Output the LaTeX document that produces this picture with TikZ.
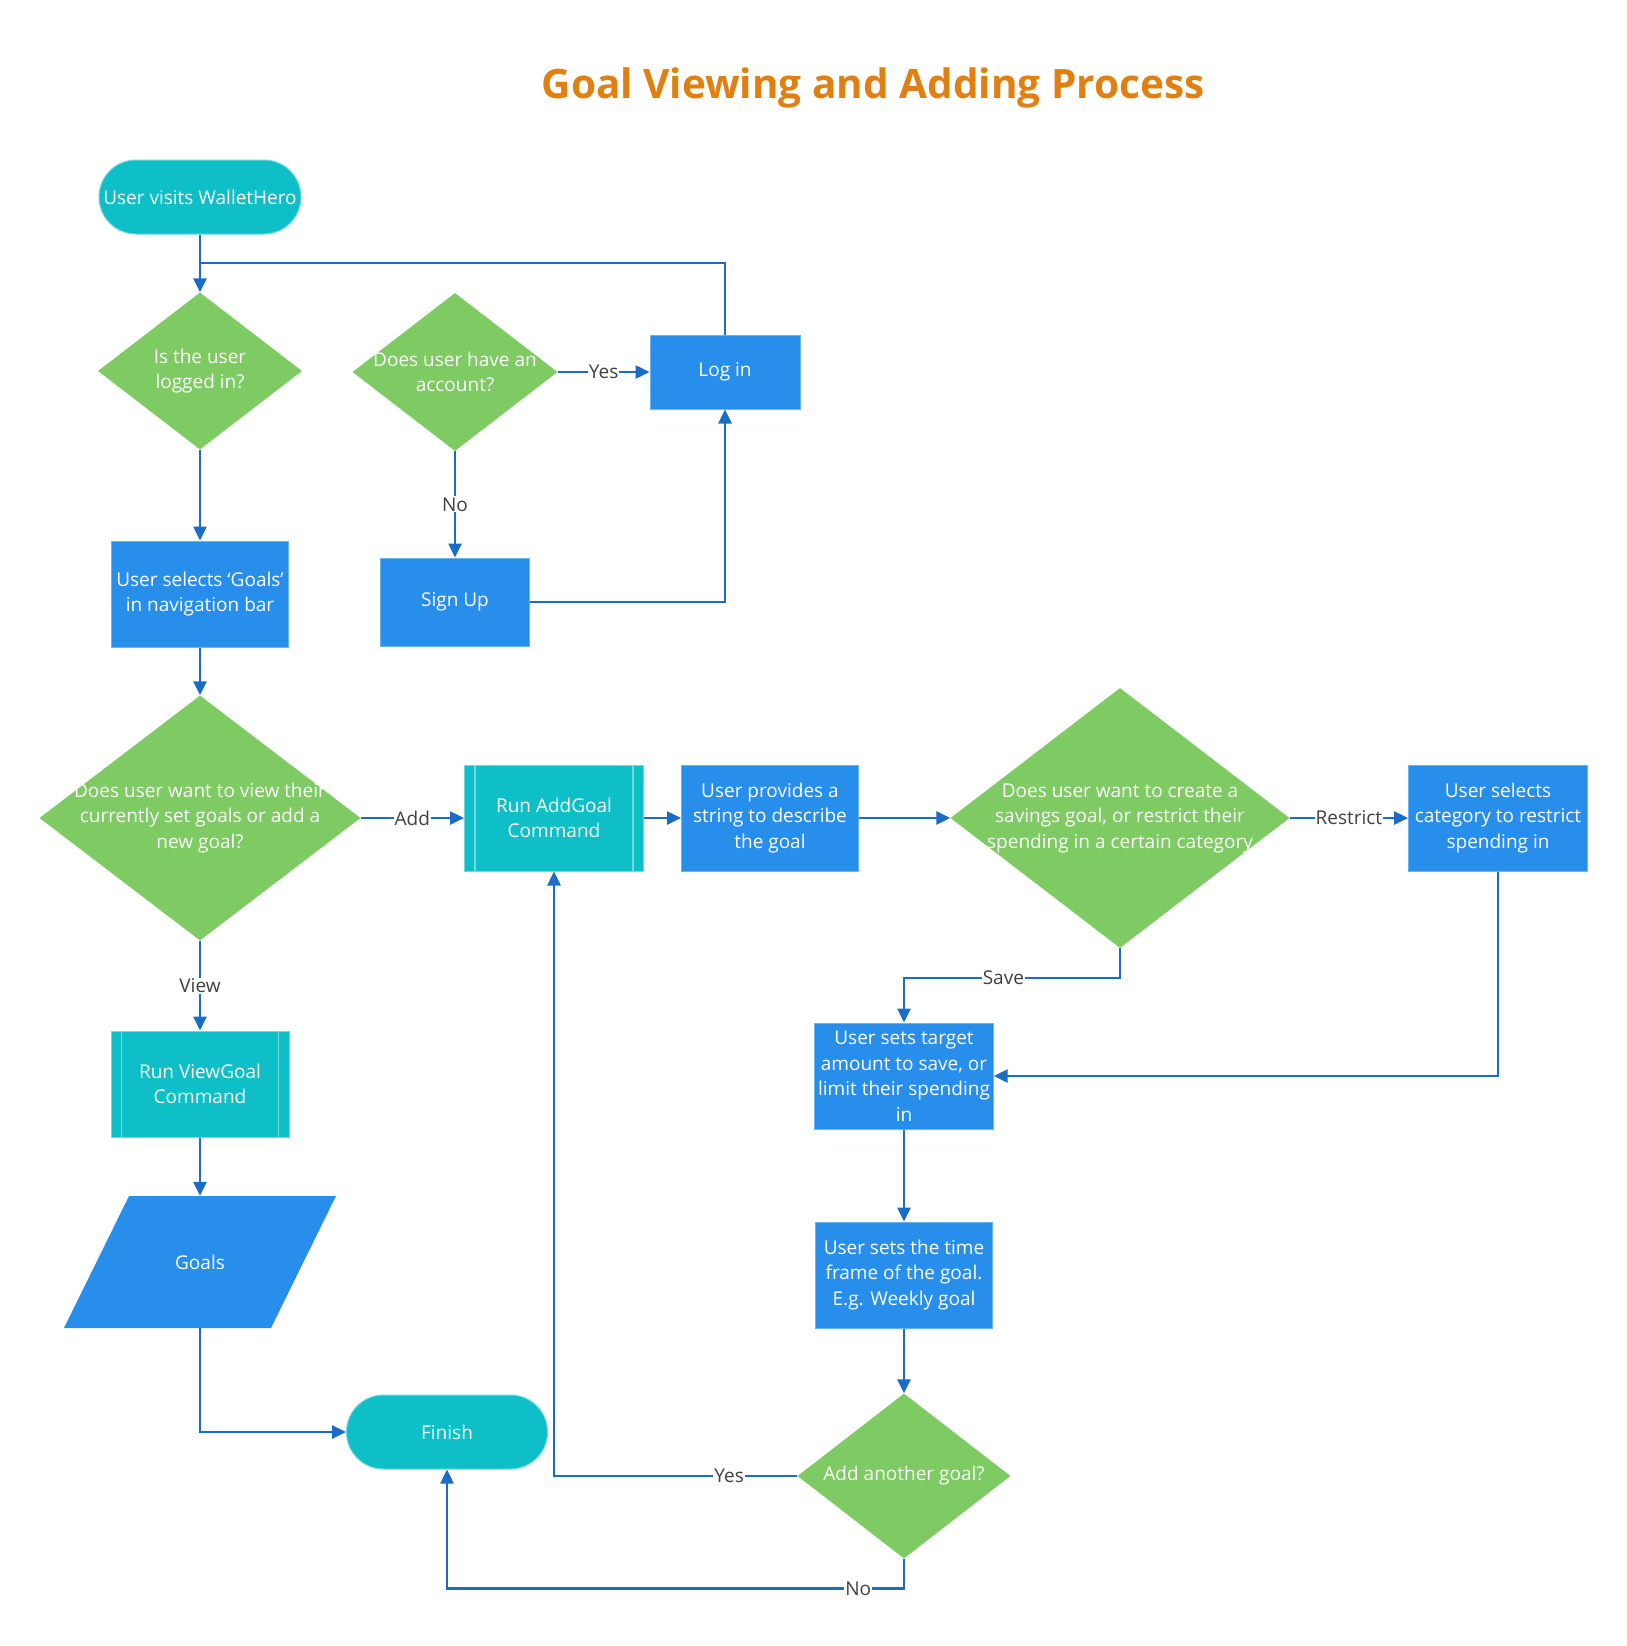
\documentclass[tikz,border=0pt]{standalone}
\usepackage{fontspec}
\setmainfont{Open Sans}
\usepackage{xcolor}
\usetikzlibrary{shapes,arrows.meta,positioning,calc}
\definecolor{termcol}{HTML}{0EBFC8}
\definecolor{termedge}{HTML}{6FD9DF}
\definecolor{proccol}{HTML}{288EEB}
\definecolor{procedge}{HTML}{6AB2F2}
\definecolor{deccol}{HTML}{7ECB63}
\definecolor{linecol}{HTML}{1A6DC6}
\definecolor{lblcol}{HTML}{404040}
\definecolor{titlecol}{HTML}{E17F10}
\newcommand{\nodefont}{\fontsize{19}{25.5}\selectfont}
\tikzset{
    terminal/.style={draw=termedge, line width=1pt, rectangle, fill=termcol, minimum width=202pt, minimum height=74pt, rounded corners=37pt, text=white, font=\nodefont, align=center},
    process/.style={draw=procedge, line width=1pt, rectangle, fill=proccol, minimum width=177pt, minimum height=106pt, text=white, font=\nodefont, align=center},
    subroutine/.style={process, fill=termcol, draw=termedge},
    subline/.style={draw=termedge, line width=1.5pt},
    decision/.style={diamond, fill=deccol, inner sep=0pt},
    dtext/.style={text=white, font=\nodefont, align=center},
    iodata/.style={rectangle, minimum width=207pt, minimum height=132pt, text=white, font=\nodefont},
    arrow/.style={-{Triangle[length=14pt,width=13pt]}, line width=2.5pt, draw=linecol},
    line/.style={line width=2.5pt, draw=linecol},
    lbl/.style={fill=white, text=lblcol, font=\nodefont, inner sep=1pt}
}
\begin{document}
\begin{tikzpicture}[x=1pt, y=-1pt]
    \useasboundingbox[fill=white] (0,0) rectangle (1627,1646);

    \node[anchor=base, text=titlecol, font=\fontsize{40.5}{48}\selectfont\bfseries] (title) at (873,98) {Goal Viewing and Adding Process};

    % login part
    \node[terminal] (start) at (200,197) {User visits WalletHero};
    \node[decision, minimum width=204pt, minimum height=157pt, label={[dtext]center:{Is the user\\logged in?}}] (logged) at (200,371) {};
    \node[decision, minimum width=205pt, minimum height=158pt, label={[dtext]center:{Does user have an\\account?}}] (account) at (455,372) {};
    \node[process, minimum width=150pt, minimum height=74pt] (login) at (725,372) {Log in};
    \node[process, minimum width=149pt, minimum height=88pt] (signup) at (455,602) {Sign Up};
    \coordinate (join) at (200,263);

    % choose view or add
    \node[process] (selgoals) at (200,594) {User selects ‘Goals’\\in navigation bar};
    \node[decision, minimum width=321pt, minimum height=245pt, label={[dtext]center:{Does user want to view their\\currently set goals or add a\\new goal?}}] (viewadd) at (200,818) {};

    % add branch
    \node[subroutine, minimum width=179pt] (addcmd) at (554,818) {Run AddGoal\\Command};
    \node[process] (describe) at (770,818) {User provides a\\string to describe\\the goal};
    \node[decision, minimum width=339pt, minimum height=260pt, label={[dtext]center:{Does user want to create a\\savings goal, or restrict their\\spending in a certain category}}] (saveres) at (1120,818) {};
    \node[process, minimum width=179pt] (category) at (1498,818) {User selects\\category to restrict\\spending in};
    \node[process] (target) at (904,1076) {User sets target\\amount to save, or\\limit their spending\\in};
    \node[process] (timeframe) at (904,1275) {User sets the time\\frame of the goal.\\E.g. Weekly goal};
    \node[decision, minimum width=213pt, minimum height=165pt, label={[dtext]center:{Add another goal?}}] (another) at (904,1476) {};

    % view branch
    \node[subroutine, minimum width=178pt] (viewcmd) at (200,1084) {Run ViewGoal\\Command};
    \fill[proccol] (64,1328) -- (271,1328) -- (336,1196) -- (129,1196) -- cycle;
    \node[iodata] (goals) at (200,1262) {Goals};
    \node[terminal, minimum width=201pt] (finish) at (447,1432) {Finish};

    \foreach \n in {addcmd,viewcmd} {
        \draw[subline] ([xshift=11pt]\n.north west) -- ([xshift=11pt]\n.south west);
        \draw[subline] ([xshift=-11pt]\n.north east) -- ([xshift=-11pt]\n.south east);
    }

    % connectors
    \draw[arrow] (start) -- (logged);
    \draw[line] (login.north) |- (join);
    \draw[arrow] (account.east) -- node[lbl] {Yes} (login.west);
    \draw[arrow] (account.south) -- node[lbl] {No} (signup.north);
    \draw[arrow] (signup.east) -| (login.south);
    \draw[arrow] (logged) -- (selgoals);
    \draw[arrow] (selgoals) -- (viewadd);
    \draw[arrow] (viewadd.east) -- node[lbl] {Add} (addcmd.west);
    \draw[arrow] (viewadd.south) -- node[lbl] {View} (viewcmd.north);
    \draw[arrow] (addcmd.east) -- (describe.west);
    \draw[arrow] (describe.east) -- (saveres.west);
    \draw[arrow] (saveres.east) -- node[lbl] {Restrict} (category.west);
    \draw[arrow] (saveres.south) -- ++(0,30) -| node[lbl, pos=0.27] {Save} (target.north);
    \draw[arrow] (category.south) |- (target.east);
    \draw[arrow] (target) -- (timeframe);
    \draw[arrow] (timeframe) -- (another);
    \draw[arrow] (another.west) -| node[lbl, pos=0.14] {Yes} (addcmd.south);
    \draw[arrow] (another.south) -- ++(0,30) -| node[lbl, pos=0.05] {No} (finish.south);
    \draw[arrow] (viewcmd) -- (goals);
    \draw[arrow] (goals.south) |- (finish.west);
\end{tikzpicture}
\end{document}
